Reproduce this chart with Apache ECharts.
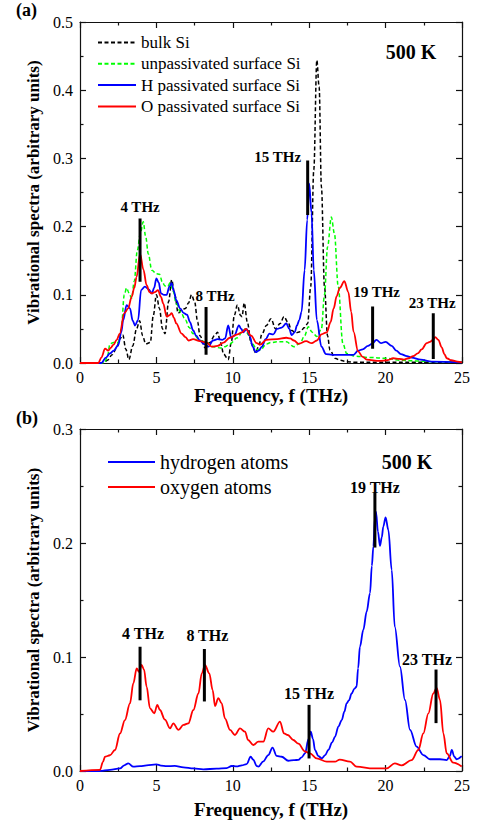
<!DOCTYPE html>
<html><head><meta charset="utf-8">
<script src="https://cdn.jsdelivr.net/npm/echarts@6.0.0/dist/echarts.min.js"></script>
<style>html,body{margin:0;padding:0;background:#fff}#c{width:481px;height:824px}</style>
</head><body><div id="c"></div>
<script>
// ---------- data (frequency THz, spectrum) ----------
const bulkSi = [[0,0],[1.5,0],[1.8,0.004],[2.1,0.012],[2.4,0.022],[2.6,0.035],[2.8,0.041],[3.0,0.02],[3.2,0.005],[3.45,0.025],[3.7,0.05],[3.9,0.062],[4.1,0.04],[4.3,0.028],[4.6,0.03],[4.8,0.07],[5.0,0.1],[5.2,0.08],[5.4,0.05],[5.56,0.043],[5.8,0.09],[6.0,0.122],[6.2,0.1],[6.43,0.073],[6.65,0.078],[6.9,0.08],[7.1,0.088],[7.3,0.1],[7.5,0.09],[7.7,0.06],[7.85,0.04],[8.2,0.022],[8.5,0.03],[8.8,0.04],[9.0,0.045],[9.2,0.03],[9.4,0.013],[9.7,0.005],[9.9,0.03],[10.1,0.07],[10.3,0.085],[10.5,0.07],[10.6,0.068],[10.75,0.088],[10.95,0.06],[11.2,0.029],[11.5,0.015],[11.7,0.025],[11.9,0.042],[12.2,0.055],[12.5,0.065],[12.8,0.05],[13.1,0.058],[13.35,0.068],[13.6,0.06],[13.85,0.048],[14.1,0.044],[14.4,0.046],[14.7,0.052],[14.9,0.058],[15.1,0.112],[15.3,0.283],[15.5,0.444],[15.65,0.405],[15.8,0.258],[16.0,0.112],[16.2,0.04],[16.36,0.019],[16.69,0.007],[17.0,0.004],[17.5,0.002],[18,0.001],[20,0.001],[22,0.001],[25,0.001]];
const unpassSi = [[0,0],[1.6,0],[1.8,0.01],[1.96,0.028],[2.2,0.03],[2.5,0.03],[2.7,0.05],[2.9,0.1],[3.05,0.11],[3.2,0.103],[3.38,0.095],[3.55,0.12],[3.75,0.165],[3.95,0.19],[4.14,0.207],[4.3,0.185],[4.47,0.16],[4.7,0.136],[5.0,0.131],[5.2,0.13],[5.4,0.118],[5.56,0.113],[5.75,0.112],[5.9,0.118],[6.1,0.105],[6.3,0.087],[6.6,0.074],[6.9,0.063],[7.15,0.052],[7.4,0.043],[7.85,0.033],[8.3,0.03],[8.7,0.024],[9.2,0.022],[9.5,0.024],[9.8,0.028],[10.3,0.037],[10.6,0.045],[10.8,0.05],[11.05,0.04],[11.3,0.028],[11.55,0.02],[11.8,0.019],[12.2,0.028],[12.5,0.03],[12.9,0.031],[13.5,0.031],[14.0,0.024],[14.4,0.029],[14.7,0.04],[14.94,0.053],[15.2,0.045],[15.5,0.039],[15.8,0.05],[16.0,0.1],[16.2,0.17],[16.45,0.214],[16.65,0.19],[16.9,0.112],[17.2,0.029],[17.45,0.014],[18,0.01],[19,0.008],[20,0.007],[21,0.004],[22,0.003],[23,0.002],[25,0.002]];
const hPassSi = [[0,0],[1.4,0],[1.7,0.008],[1.96,0.014],[2.2,0.018],[2.5,0.026],[2.7,0.045],[2.83,0.063],[3.05,0.085],[3.27,0.08],[3.45,0.062],[3.6,0.055],[3.8,0.063],[4.0,0.107],[4.25,0.112],[4.5,0.108],[4.7,0.102],[4.85,0.11],[5.0,0.124],[5.15,0.118],[5.3,0.102],[5.5,0.1],[5.67,0.1],[5.85,0.112],[6.0,0.117],[6.15,0.105],[6.3,0.092],[6.55,0.08],[6.8,0.073],[7.0,0.071],[7.2,0.06],[7.4,0.048],[7.6,0.04],[7.85,0.033],[8.1,0.028],[8.4,0.024],[8.7,0.033],[9.0,0.035],[9.3,0.034],[9.5,0.036],[9.7,0.055],[9.9,0.037],[10.1,0.04],[10.4,0.055],[10.55,0.05],[10.7,0.045],[10.9,0.05],[11.1,0.04],[11.3,0.024],[11.5,0.016],[11.7,0.018],[11.9,0.024],[12.15,0.035],[12.4,0.043],[12.65,0.042],[12.9,0.05],[13.2,0.052],[13.5,0.058],[13.7,0.05],[13.85,0.041],[14.05,0.045],[14.2,0.055],[14.35,0.063],[14.5,0.075],[14.7,0.136],[14.87,0.21],[15.0,0.263],[15.15,0.22],[15.3,0.136],[15.5,0.063],[15.8,0.024],[16.1,0.013],[16.5,0.012],[17,0.012],[17.5,0.012],[17.9,0.012],[18.2,0.018],[18.5,0.02],[18.85,0.025],[19.1,0.028],[19.4,0.034],[19.7,0.029],[20.0,0.031],[20.4,0.025],[20.7,0.018],[21.0,0.013],[21.4,0.01],[21.7,0.008],[22.3,0.005],[23,0.002],[25,0.001]];
const oPassSi = [[0,0],[1.2,0],[1.4,0.008],[1.64,0.021],[1.85,0.018],[2.0,0.022],[2.2,0.027],[2.4,0.034],[2.6,0.043],[2.9,0.073],[3.15,0.08],[3.38,0.097],[3.55,0.11],[3.7,0.126],[3.93,0.16],[4.15,0.137],[4.36,0.114],[4.55,0.104],[4.7,0.102],[4.9,0.104],[5.1,0.107],[5.3,0.097],[5.45,0.087],[5.67,0.068],[5.85,0.07],[6.0,0.073],[6.15,0.066],[6.3,0.058],[6.65,0.043],[6.9,0.038],[7.1,0.033],[7.4,0.035],[7.85,0.032],[8.3,0.03],[8.6,0.024],[9.0,0.025],[9.4,0.03],[9.8,0.037],[10.3,0.042],[10.6,0.045],[10.85,0.05],[11.2,0.04],[11.56,0.029],[11.8,0.027],[12.2,0.034],[12.9,0.035],[13.5,0.037],[13.75,0.036],[14.0,0.033],[14.3,0.028],[14.8,0.032],[15.16,0.029],[15.5,0.033],[15.8,0.042],[16.15,0.045],[16.4,0.06],[16.6,0.08],[16.8,0.098],[17.0,0.11],[17.3,0.12],[17.56,0.104],[17.75,0.075],[17.9,0.046],[18.2,0.017],[18.5,0.009],[18.76,0.005],[19.6,0.003],[20.1,0.004],[20.5,0.007],[20.9,0.006],[21.2,0.005],[21.5,0.007],[21.8,0.01],[22.1,0.014],[22.36,0.02],[22.69,0.029],[22.9,0.031],[23.1,0.034],[23.25,0.038],[23.45,0.034],[23.67,0.023],[23.85,0.013],[24.0,0.007],[24.3,0.004],[24.7,0.002],[25,0.001]];
const hydrogenAtoms = [[0,0],[1.3,0],[1.96,0.001],[2.62,0.0023],[2.9,0.005],[3.16,0.0067],[3.49,0.0038],[3.93,0.0042],[4.36,0.005],[5.0,0.0058],[5.3,0.0048],[5.67,0.0042],[6.2,0.0045],[6.77,0.0032],[7.42,0.0023],[8.07,0.0015],[8.94,0.002],[9.6,0.0026],[9.93,0.0044],[10.26,0.004],[10.59,0.005],[10.9,0.006],[11.17,0.0125],[11.34,0.01],[11.56,0.0044],[11.67,0.0038],[12.0,0.0085],[12.32,0.014],[12.6,0.0205],[12.87,0.0132],[13.2,0.0125],[13.63,0.009],[14.0,0.0095],[14.29,0.0098],[14.5,0.012],[14.73,0.0155],[14.95,0.028],[15.1,0.0345],[15.25,0.028],[15.38,0.0184],[15.6,0.013],[15.82,0.0111],[16.05,0.014],[16.25,0.0184],[16.5,0.025],[16.69,0.0301],[16.91,0.039],[17.13,0.0447],[17.3,0.052],[17.45,0.0593],[17.6,0.062],[17.78,0.068],[17.95,0.072],[18.1,0.0739],[18.2,0.09],[18.32,0.109],[18.54,0.1237],[18.76,0.1398],[18.98,0.156],[19.1,0.18],[19.2,0.197],[19.3,0.222],[19.37,0.2275],[19.5,0.21],[19.63,0.1974],[19.75,0.205],[19.85,0.2144],[20.0,0.2225],[20.18,0.2114],[20.4,0.1763],[20.6,0.1266],[20.94,0.0915],[21.27,0.0623],[21.6,0.036],[22.03,0.0213],[22.47,0.014],[22.9,0.0103],[23.56,0.0103],[24.0,0.0096],[24.2,0.013],[24.33,0.0184],[24.5,0.0125],[24.65,0.0103],[24.98,0.013]];
const oxygenAtoms = [[0,0],[1.31,0.001],[1.5,0.008],[1.64,0.0125],[1.96,0.0138],[2.29,0.0184],[2.62,0.0329],[2.94,0.0447],[3.27,0.0593],[3.49,0.077],[3.71,0.09],[3.86,0.087],[4.03,0.093],[4.19,0.089],[4.36,0.074],[4.58,0.055],[4.86,0.0506],[5.06,0.058],[5.23,0.0535],[5.56,0.045],[5.89,0.0374],[6.11,0.0418],[6.44,0.036],[6.77,0.0404],[7.09,0.0418],[7.42,0.0535],[7.75,0.068],[7.97,0.0857],[8.18,0.093],[8.46,0.0857],[8.68,0.071],[8.84,0.057],[9.05,0.064],[9.27,0.0593],[9.49,0.046],[9.82,0.036],[10.14,0.0316],[10.47,0.0374],[10.8,0.0345],[11.0,0.0272],[11.34,0.0228],[11.67,0.0257],[12.0,0.0257],[12.32,0.0374],[12.65,0.0345],[13.09,0.0433],[13.35,0.033],[13.6,0.0316],[13.96,0.0272],[14.29,0.024],[14.73,0.0171],[15.05,0.0155],[15.49,0.0111],[16.15,0.0082],[16.69,0.0082],[17.0,0.01],[17.67,0.0082],[18.1,0.0038],[19.2,0.0023],[20.07,0.0023],[20.6,0.0067],[21.05,0.005],[21.7,0.0096],[22.14,0.0184],[22.47,0.033],[22.8,0.0506],[23.12,0.068],[23.34,0.073],[23.56,0.0623],[23.78,0.033],[24.0,0.0155],[24.43,0.0073],[24.98,0.004]];

// peak markers
const markerFreqA = [3.93, 8.25, 14.9, 19.15, 23.12];
const markerLowA  = [0.119, 0.012, 0.217, 0.021, 0.006];
const markerHighA = [0.212, 0.082, 0.297, 0.083, 0.073];
const markerTextA = ['4 THz', '8 THz', '15 THz', '19 THz', '23 THz'];
const markerFreqB = [3.93, 8.14, 14.99, 19.3, 23.3];
const markerLowB  = [0.062, 0.061, 0.011, 0.196, 0.042];
const markerHighB = [0.109, 0.107, 0.058, 0.244, 0.089];
const markerTextB = ['4 THz', '8 THz', '15 THz', '19 THz', '23 THz'];

// axis ticks
const xMin = 0, xMax = 25, xStep = 5;
const yMaxA = 0.5, yMaxB = 0.3, yStep = 0.1;

const namesA = ['bulk Si', 'unpassivated surface Si', 'H passivated surface Si', 'O passivated surface Si'];
const namesB = ['hydrogen atoms', 'oxygen atoms'];
const tempText = '500 K';

// ---------- styles ----------
const SERIF = '"Liberation Serif", "Times New Roman", serif';
const labelStyleA = [
  {position:'top', distance:3, offset:[0,0]},
  {position:'top', distance:3, offset:[9,0]},
  {position:'left', distance:6, offset:[0,-3]},
  {position:'top', distance:6, offset:[4,0]},
  {position:'top', distance:2, offset:[-1,0]}
];
const labelStyleB = [
  {position:'top', distance:5, offset:[3,0]},
  {position:'top', distance:5, offset:[3,0]},
  {position:'top', distance:3, offset:[0,0]},
  {position:'top', distance:-3, offset:[0,0]},
  {position:'top', distance:2, offset:[-9,0]}
];

const chart = echarts.init(document.getElementById('c'), null, {renderer:'svg', width:481, height:824});

const axisLineStyle = {color:'#111', width:1.2};
function xAxesFor(gi, nameGap) {
  const base = {type:'value', gridIndex:gi, min:xMin, max:xMax, interval:xStep,
    axisLine:{show:true, onZero:false, lineStyle:axisLineStyle},
    axisTick:{show:true, inside:true, length:6, lineStyle:axisLineStyle},
    minorTick:{show:true, splitNumber:2, length:3.5, lineStyle:axisLineStyle},
    splitLine:{show:false}, minorSplitLine:{show:false}};
  return [
    Object.assign({}, base, {position:'bottom',
      axisLabel:{show:true, fontFamily:SERIF, fontSize:16, color:'#000', margin:6},
      name:'Frequency, f (THz)', nameLocation:'middle', nameGap:nameGap,
      nameTextStyle:{fontFamily:SERIF, fontWeight:'bold', fontSize:19, color:'#000'}}),
    Object.assign({}, base, {position:'top', axisLabel:{show:false}})
  ];
}
function yAxesFor(gi, ymax) {
  const base = {type:'value', gridIndex:gi, min:0, max:ymax, interval:yStep,
    axisLine:{show:true, onZero:false, lineStyle:axisLineStyle},
    axisTick:{show:true, inside:true, length:6, lineStyle:axisLineStyle},
    minorTick:{show:true, splitNumber:2, length:3.5, lineStyle:axisLineStyle},
    splitLine:{show:false}, minorSplitLine:{show:false}};
  return [
    Object.assign({}, base, {position:'left',
      axisLabel:{show:true, fontFamily:SERIF, fontSize:16, color:'#000', margin:7, formatter:v => v.toFixed(1)},
      name:'Vibrational spectra (arbitrary units)', nameLocation:'middle', nameGap:37,
      nameTextStyle:{fontFamily:SERIF, fontWeight:'bold', fontSize:17, color:'#000'}}),
    Object.assign({}, base, {position:'right', axisLabel:{show:false}})
  ];
}

function curve(name, data, xi, yi, color, dashed) {
  return {type:'line', name:name, xAxisIndex:xi, yAxisIndex:yi, data:data,
    symbol:'none', smooth:0.35, smoothMonotone:'x', silent:true, animation:false,
    itemStyle:{color:color},
    lineStyle:{color:color, width:dashed ? 1.5 : 1.8, type:dashed ? [4,2.5] : 'solid'}};
}
function markers(freqs, lows, highs, texts, styles, xi, yi, fs) {
  return freqs.map((f, i) => ({type:'line', xAxisIndex:xi, yAxisIndex:yi, symbol:'circle', symbolSize:1,
    silent:true, animation:false, z:5,
    itemStyle:{color:'rgba(0,0,0,0)'},
    lineStyle:{color:'#000', width:3},
    data:[[f, lows[i]], {value:[f, highs[i]], label:{show:true, formatter:texts[i],
      position:styles[i].position, distance:styles[i].distance, offset:styles[i].offset,
      fontFamily:SERIF, fontWeight:'bold', fontSize:fs, color:'#000'}}]}));
}

const option = {
  backgroundColor:'#fff',
  animation:false,
  grid:[{left:80, top:22, width:382, height:341}, {left:80, top:429, width:382, height:342}],
  xAxis:[...xAxesFor(0, 16), ...xAxesFor(1, 29)],
  yAxis:[...yAxesFor(0, yMaxA), ...yAxesFor(1, yMaxB)],
  legend:[
    {data:namesA, orient:'vertical', left:92, top:29, itemWidth:38, itemHeight:10, itemGap:4.3,
     selectedMode:false, itemStyle:{opacity:0, borderWidth:0},
     textStyle:{fontFamily:SERIF, fontSize:17, color:'#000', lineHeight:17}},
    {data:namesB, orient:'vertical', left:102, top:447, itemWidth:47, itemHeight:10, itemGap:5,
     selectedMode:false, itemStyle:{opacity:0, borderWidth:0},
     textStyle:{fontFamily:SERIF, fontSize:20, color:'#000', lineHeight:20}}
  ],
  graphic:[
    {type:'text', left:16, top:1, style:{text:'(a)', font:'bold 18px "Liberation Serif", serif', fill:'#000'}},
    {type:'text', left:16, top:409, style:{text:'(b)', font:'bold 18px "Liberation Serif", serif', fill:'#000'}},
    {type:'text', x:411, y:52, style:{text:tempText, font:'bold 20px "Liberation Serif", serif', fill:'#000', align:'center', verticalAlign:'middle'}},
    {type:'text', x:407, y:462, style:{text:tempText, font:'bold 20px "Liberation Serif", serif', fill:'#000', align:'center', verticalAlign:'middle'}}
  ],
  series:[
    curve(namesA[0], bulkSi, 0, 0, '#000', true),
    curve(namesA[1], unpassSi, 0, 0, '#00ff00', true),
    curve(namesA[2], hPassSi, 0, 0, '#0000ff', false),
    curve(namesA[3], oPassSi, 0, 0, '#ff0000', false),
    curve(namesB[0], hydrogenAtoms, 2, 2, '#0000ff', false),
    curve(namesB[1], oxygenAtoms, 2, 2, '#ff0000', false),
    ...markers(markerFreqA, markerLowA, markerHighA, markerTextA, labelStyleA, 0, 0, 15),
    ...markers(markerFreqB, markerLowB, markerHighB, markerTextB, labelStyleB, 2, 2, 16)
  ]
};
chart.setOption(option);
</script>
</body></html>
